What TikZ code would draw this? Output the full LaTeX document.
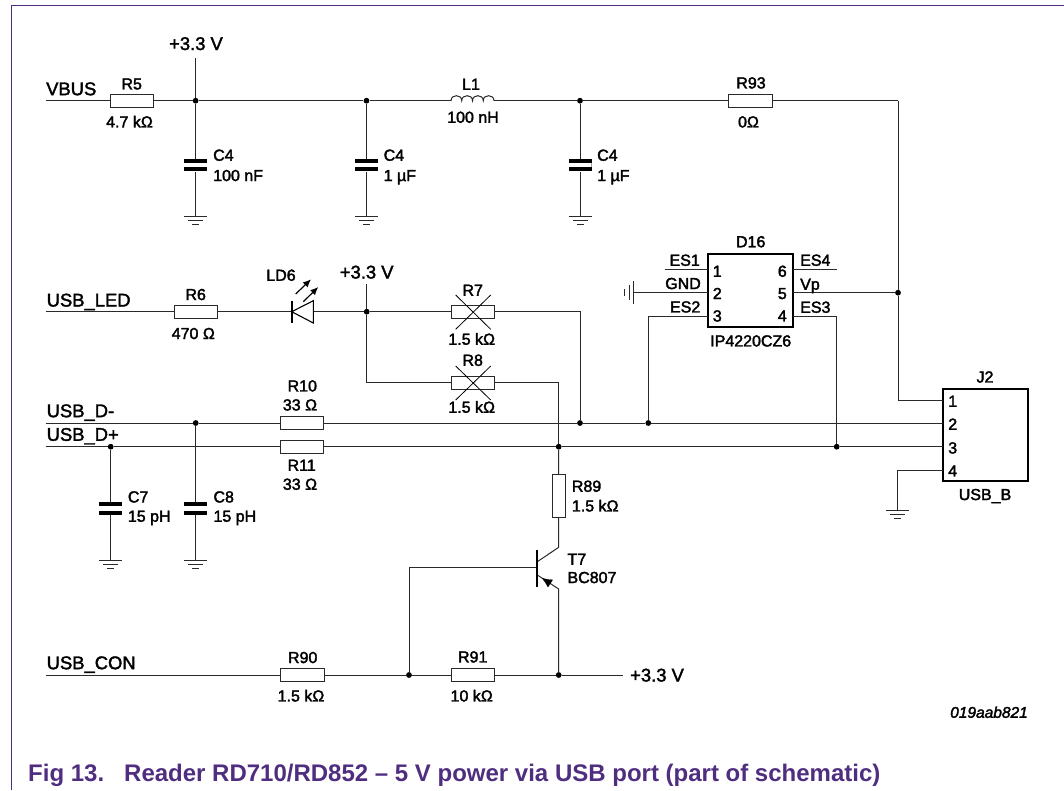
\documentclass[tikz,border=0pt]{standalone}
\usepackage{fontspec}
\usetikzlibrary{arrows.meta}
\setmainfont{Liberation Sans}
\newfontfamily\lf{Liberation Sans}
\newfontfamily\lfi{Liberation Sans Italic}
\definecolor{frame}{HTML}{4F2D7F}
\definecolor{wire}{HTML}{2A2A2A}
\newcommand{\strokeon}{\special{pdf:code 2 Tr 0.35 w}}
\newcommand{\strokeoff}{\special{pdf:code 0 Tr}}
\tikzset{
  wr/.style={draw=wire,line width=1pt},
  res/.style={draw=wire,line width=1pt,fill=white,rectangle,minimum width=43.3pt,minimum height=13.3pt,inner sep=0pt},
  resv/.style={res,minimum width=13.3pt,minimum height=43pt},
  dot/.style={circle,fill=black,inner sep=0pt,minimum size=5.8pt},
  capv/.style={rectangle,fill=black,inner sep=0pt,minimum width=23pt,minimum height=12.5pt,
    path picture={\fill[white] ([yshift=-4.2pt]path picture bounding box.north west) rectangle ([yshift=4.2pt]path picture bounding box.south east);}},
  chip/.style={draw=black,line width=2pt,rectangle,inner sep=0pt},
  bolder/.style={execute at begin node=\strokeon,execute at end node=\strokeoff},
  lab/.style={bolder,inner sep=0pt,text height=11.5pt,text depth=0pt,font=\fontsize{16}{18}\lf,text=black},
  net/.style={bolder,inner sep=0pt,text height=13pt,text depth=0pt,font=\fontsize{18.4}{20}\lf,text=black},
  cap13/.style={inner sep=0pt,text height=17pt,text depth=0pt,font=\fontsize{24}{26}\bfseries,text=frame,anchor=west},
  gnd/.pic={\draw[wr,line width=.8pt] (-11.5,0)--(11.5,0) (-7.5,4)--(7.5,4);\draw[wr,line width=1pt] (-3.5,8)--(3.5,8);},
  gndl/.pic={\draw[wr,line width=.8pt] (0,-11.5)--(0,11.5) (-4.3,-7.5)--(-4.3,7.5);\draw[wr,line width=1pt] (-8.5,-3.5)--(-8.5,3.5);},
}
\begin{document}
\begin{tikzpicture}[x=1pt,y=-1pt]
\useasboundingbox (0,0) rectangle (1064,790);
\draw[draw=frame,line width=1.2pt] (1064,5.5) -- (11.5,5.5) -- (11.5,790);

% ---------- row 1: VBUS
\coordinate (vbusL) at (45.5,100.7);
\coordinate (v33a) at (195.6,58);
\node[res] (R5) at (131.8,100.7) {};
\node[dot] (j1) at (195.6,100.7) {};
\node[dot] (j2) at (366.5,100.7) {};
\node[dot] (j3) at (580,100.7) {};
\node[res] (R93) at (750.5,100.7) {};
\coordinate (L1a) at (451,100.7);
\coordinate (L1b) at (494,100.7);
\coordinate (cornerR) at (898,100.7);
\node[capv] (C4a) at (195.6,165.2) {};
\node[capv] (C4b) at (366.5,165.2) {};
\node[capv] (C4c) at (580,165.2) {};
\coordinate (g1) at (195.6,216);
\coordinate (g2) at (366.5,216);
\coordinate (g3) at (580,216);
\draw[wr] (vbusL) -- (R5) -- (j1) -- (j2) -- (L1a);
\draw[wr] (L1b) -- (j3) -- (R93) -- (cornerR);
\draw[wr] (v33a) -- (j1) -- (C4a) -- (g1);
\draw[wr] (j2) -- (C4b) -- (g2);
\draw[wr] (j3) -- (C4c) -- (g3);
\draw[wr] (L1a) .. controls (451,94) and (461.75,94) .. (461.75,100.7)
  .. controls (461.75,94) and (472.5,94) .. (472.5,100.7)
  .. controls (472.5,94) and (483.25,94) .. (483.25,100.7)
  .. controls (483.25,94) and (494,94) .. (L1b);
\pic at (g1) {gnd}; \pic at (g2) {gnd}; \pic at (g3) {gnd};

\node[net] (tv1) at (196,43.5) {+3.3 V};
\node[net,anchor=west] (tvbus) at (46,88.7) {VBUS};
\node[lab] (tR5) at (131.7,83.7) {R5};
\node[lab] (vR5) at (129.5,121.7) {4.7 kΩ};
\node[lab,anchor=west] (tC1) at (213,155) {C4};
\node[lab,anchor=west] (vC1) at (213,175.3) {100 nF};
\node[lab,anchor=west] (tC2) at (383.5,155) {C4};
\node[lab,anchor=west] (vC2) at (383.5,175.3) {1 µF};
\node[lab] (tL1) at (471,84) {L1};
\node[lab] (vL1) at (473,117) {100 nH};
\node[lab,anchor=west] (tC3) at (597,155) {C4};
\node[lab,anchor=west] (vC3) at (597,175.3) {1 µF};
\node[lab] (tR93) at (751,82.7) {R93};
\node[lab] (vR93) at (748.5,121.7) {0Ω};

% ---------- row 2: USB_LED
\coordinate (ledL) at (45.5,311.7);
\node[res] (R6) at (196,311.7) {};
\coordinate (ledK) at (291.7,311.7);
\coordinate (ledA) at (313.3,311.7);
\node[dot] (j4) at (366.7,311.7) {};
\coordinate (v33b) at (366.7,284);
\node[res] (R7) at (473.3,311.7) {};
\node[res] (R8) at (473.3,382.7) {};
\coordinate (r8cor) at (366.7,382.7);
\draw[wr] (ledL) -- (R6) -- (ledK);
\draw[wr] (ledA) -- (j4) -- (R7);
\draw[wr] (v33b) -- (j4) -- (r8cor) -- (R8);
\draw[draw=black,line width=1.1pt,line join=miter] (313.3,300.7) -- (ledK) -- (313.3,323) -- cycle;
\draw[draw=black,line width=2pt] (291.7,300.7) -- (291.7,323);
\draw[draw=black,line width=1.2pt,-{Latex[length=8pt,width=7pt]}] (295.7,294) -- (311,279.3);
\draw[draw=black,line width=1.2pt,-{Latex[length=8pt,width=7pt]}] (303.3,301.7) -- (318.3,287);
\draw[draw=black,line width=.8pt] (455.7,295) -- (490.7,329.3) (490.7,295) -- (455.7,329.3);
\draw[draw=black,line width=.8pt] (455.7,366) -- (490.7,400) (490.7,366) -- (455.7,400);

\node[net,anchor=west] (tled) at (46.5,300) {USB\_LED};
\node[lab] (tR6) at (195.7,294.3) {R6};
\node[lab] (vR6) at (193.3,333.3) {470 Ω};
\node[lab] (tLD) at (281,275) {LD6};
\node[net] (tv2) at (366.7,272) {+3.3 V};
\node[lab] (tR7) at (472.7,290) {R7};
\node[lab] (vR7) at (471.7,339) {1.5 kΩ};
\node[lab] (tR8) at (472.7,360) {R8};
\node[lab] (vR8) at (471.7,407) {1.5 kΩ};

% ---------- D16 and J2
\node[chip,minimum width=85.6pt,minimum height=72.4pt] (D16) at (750.5,290.5) {};
\node[chip,minimum width=85.6pt,minimum height=91.7pt] (J2) at (985.5,434.8) {};
\coordinate (d1) at (707.7,269.3); \coordinate (d2) at (707.7,292.7); \coordinate (d3) at (707.7,316.7);
\coordinate (d6) at (793.3,269.3); \coordinate (d5) at (793.3,292.7); \coordinate (d4) at (793.3,316.7);
\coordinate (d1e) at (665,269.3); \coordinate (d6e) at (836.7,269.3);
\coordinate (gl) at (633.3,292.7);
\coordinate (p1) at (942.7,400); \coordinate (p2) at (942.7,423);
\coordinate (p3) at (942.7,446.7); \coordinate (p4) at (942.7,470);
\coordinate (g6) at (897.6,510.7);
\node[dot] (j5) at (898,292.7) {};
\node[dot] (j6) at (580,423) {};
\node[dot] (j7) at (648.3,423) {};
\node[dot] (j8) at (836.7,446.7) {};
\node[dot] (j9) at (558.7,446.7) {};
\node[dot] (j10) at (195.7,423) {};
\node[dot] (j11) at (110.7,446.7) {};
\coordinate (dmL) at (45.5,423);
\coordinate (dpL) at (45.5,446.7);
\node[res] (R10) at (302.3,423) {};
\node[res] (R11) at (302.3,446.7) {};
\draw[wr] (d1e) -- (d1) (d6) -- (d6e);
\draw[wr] (gl) -- (d2);
\draw[wr] (d5) -- (j5);
\draw[wr] (cornerR) -- (j5) -- (cornerR |- p1) -- (p1);
\draw[wr] (d3) -| (j7);
\draw[wr] (d4) -| (j8);
\draw[wr] (R7) -| (j6);
\draw[wr] (R8) -| (j9);
\draw[wr] (dmL) -- (j10) -- (R10) -- (j6) -- (j7) -- (p2);
\draw[wr] (dpL) -- (j11) -- (R11) -- (j9) -- (j8) -- (p3);
\draw[wr] (p4) -| (g6);
\pic at (g6) {gnd};
\pic at (gl) {gndl};

\node[lab,anchor=east] (tES1) at (700,260) {ES1};
\node[lab,anchor=east] (tGND) at (701,283.3) {GND};
\node[lab,anchor=east] (tES2) at (700.5,306.7) {ES2};
\node[lab,anchor=west] (tES4) at (800,260) {ES4};
\node[lab,anchor=west] (tVp) at (800,284) {Vp};
\node[lab,anchor=west] (tES3) at (800,307) {ES3};
\node[lab] (n1) at (717.3,271) {1};
\node[lab] (n2) at (717.3,293.3) {2};
\node[lab] (n3) at (717.3,315.7) {3};
\node[lab] (n6) at (782.3,271) {6};
\node[lab] (n5) at (782.3,293.3) {5};
\node[lab] (n4) at (782.3,315.7) {4};
\node[lab] (tD16) at (750.7,241.5) {D16};
\node[lab] (vD16) at (750.7,340.7) {IP4220CZ6};
\node[lab] (tJ2) at (985,376.7) {J2};
\node[lab] (vJ2) at (985,494.3) {USB\_B};
\node[lab] (m1) at (952.7,401) {1};
\node[lab] (m2) at (952.7,424) {2};
\node[lab] (m3) at (952.7,447.7) {3};
\node[lab] (m4) at (952.7,470.7) {4};

% ---------- USB_D lines and capacitors
\node[capv] (C7) at (110.7,508.5) {};
\node[capv] (C8) at (195.7,508.5) {};
\coordinate (g4) at (110.7,560);
\coordinate (g5) at (195.7,560);
\draw[wr] (j11) -- (C7) -- (g4);
\draw[wr] (j10) -- (C8) -- (g5);
\pic at (g4) {gnd}; \pic at (g5) {gnd};
\node[net,anchor=west] (tdm) at (46.5,410.7) {USB\_D-};
\node[net,anchor=west] (tdp) at (46.5,434.3) {USB\_D+};
\node[lab] (tR10) at (302.3,385.7) {R10};
\node[lab] (vR10) at (300,404.7) {33 Ω};
\node[lab] (tR11) at (301.7,465) {R11};
\node[lab] (vR11) at (300,484) {33 Ω};
\node[lab,anchor=west] (tC7) at (127.7,496.7) {C7};
\node[lab,anchor=west] (vC7) at (127.7,516) {15 pH};
\node[lab,anchor=west] (tC8) at (213.3,496.7) {C8};
\node[lab,anchor=west] (vC8) at (213.3,516) {15 pH};

% ---------- transistor and USB_CON
\coordinate (conL) at (45.5,675);
\node[res] (R90) at (302.5,675) {};
\node[dot] (j12) at (409,675) {};
\node[res] (R91) at (473.3,675) {};
\node[dot] (j13) at (558.7,675) {};
\coordinate (conR) at (623.3,675);
\node[resv] (R89) at (558.7,495.8) {};
\coordinate (tc) at (558.7,547.3);
\coordinate (tcb) at (537.3,561.7);
\coordinate (tb) at (537.3,567.7);
\coordinate (te) at (558.7,589);
\coordinate (teb) at (537.3,575);
\coordinate (tbc) at (409,567.7);
\draw[wr] (conL) -- (R90) -- (j12) -- (R91) -- (j13) -- (conR);
\draw[wr] (j9) -- (R89) -- (tc) -- (tcb);
\draw[wr] (j12) -- (tbc) -- (tb);
\draw[wr] (j13) -- (te) -- (teb);
\draw[draw=black,line width=2pt] (537.3,550) -- (537.3,586.7);
\draw[draw=black,line width=.1pt,-{Latex[length=10pt,width=9pt]}] (550,583.3) -- (542,578.1);

\node[net,anchor=west] (tcon) at (46.5,662.7) {USB\_CON};
\node[lab] (tR90) at (302.7,657.3) {R90};
\node[lab] (vR90) at (301,695.7) {1.5 kΩ};
\node[lab] (tR91) at (472.7,656.7) {R91};
\node[lab] (vR91) at (471.7,695.7) {10 kΩ};
\node[lab,anchor=west] (tR89) at (571.7,486) {R89};
\node[lab,anchor=west] (vR89) at (571.7,505.7) {1.5 kΩ};
\node[lab,anchor=west] (tT7) at (567.3,559) {T7};
\node[lab,anchor=west] (vT7) at (567.3,577.3) {BC807};
\node[net,anchor=west] (tv3) at (630,675) {+3.3 V};

\node[bolder,inner sep=0pt,text height=11.5pt,text depth=0pt,font=\fontsize{15.5}{18}\lfi,anchor=east] (code) at (1028,712) {019aab821};
\node[cap13] (figa) at (28,772.7) {Fig 13.};
\node[cap13] (figb) at (124,772.7) {Reader RD710/RD852 – 5 V power via USB port (part of schematic)};
\end{tikzpicture}
\end{document}
